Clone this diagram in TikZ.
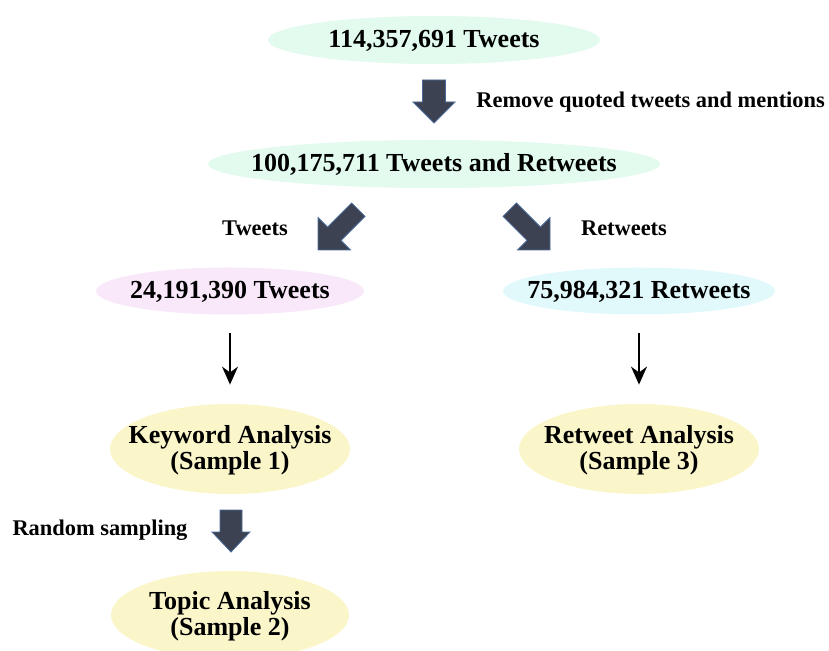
\documentclass[tikz,border=0pt]{standalone}
\usepackage{fontspec}
\setmainfont{Liberation Serif}
\usetikzlibrary{shapes.geometric,arrows.meta}
\definecolor{mintfill}{HTML}{E2FBEE}
\definecolor{pinkfill}{HTML}{F8E8FA}
\definecolor{cyanfill}{HTML}{E2F9FC}
\definecolor{yellowfill}{HTML}{FAF6C9}
\definecolor{arrowfill}{HTML}{3C4252}
\definecolor{arrowedge}{HTML}{4B6A9B}
% tip, angle, length, head length, head half width, shaft half width
\newcommand{\blockarrow}[6]{%
  \filldraw[blockstyle, shift={#1}, rotate=#2]
    (0,0) -- (-#4,#5) -- (-#4,#6) -- (-#3,#6) -- (-#3,-#6) -- (-#4,-#6) -- (-#4,-#5) -- cycle;}
% text that does not widen its oval
\newcommand{\ovaltext}[1]{\makebox[0pt]{\raisebox{-1.3pt}[\height][\depth]{\begin{tabular}{@{}c@{}}#1\end{tabular}}}}
\tikzset{
  oval/.style={ellipse, inner sep=0pt, font=\fontsize{13}{13}\selectfont\bfseries},
  note/.style={inner sep=0pt, font=\fontsize{11.2}{12}\selectfont\bfseries},
  blockstyle/.style={fill=arrowfill, draw=arrowedge, line width=0.4pt},
  thinarrow/.style={-{Stealth[length=9pt,width=8pt]}, line width=0.8pt}
}
\begin{document}
\begin{tikzpicture}[x=0.5pt, y=-0.5pt]
\useasboundingbox (0,0) rectangle (829,651);
% ovals
\node[oval, fill=mintfill, minimum width=166pt, minimum height=24pt] (all) at (434,40) {\ovaltext{114,357,691 Tweets}};
\node[oval, fill=mintfill, minimum width=226pt, minimum height=24pt] (mixed) at (434,164) {\ovaltext{100,175,711 Tweets and Retweets}};
\node[oval, fill=pinkfill, minimum width=134pt, minimum height=23.5pt] (tweets) at (230,291) {\ovaltext{24,191,390 Tweets}};
\node[oval, fill=cyanfill, minimum width=136pt, minimum height=23.5pt] (retweets) at (639,291) {\ovaltext{75,984,321 Retweets}};
\node[oval, fill=yellowfill, minimum width=120pt, minimum height=45pt] (keyword) at (230,449) {\ovaltext{Keyword Analysis\\(Sample 1)}};
\node[oval, fill=yellowfill, minimum width=120pt, minimum height=45pt] (rtanalysis) at (639,449) {\ovaltext{Retweet Analysis\\(Sample 3)}};
\node[oval, fill=yellowfill, minimum width=119pt, minimum height=44pt] (topic) at (230,615) {\ovaltext{Topic Analysis\\(Sample 2)}};
% labels
\node[note, anchor=west] (removelbl) at (476,102) {Remove quoted tweets and mentions};
\node[note] (tweetslbl) at (255,228) {Tweets};
\node[note] (retweetslbl) at (624,228) {Retweets};
\node[note] (samplinglbl) at (100,530) {Random sampling};
% block arrows
\blockarrow{(434,123)}{-90}{43}{21}{21}{11.5}
\blockarrow{(318,250)}{-135}{57}{23}{23}{9.5}
\blockarrow{(550,250)}{-45}{57}{23}{23}{9.5}
\blockarrow{(231,552)}{-90}{42}{20}{19}{11}
% thin arrows
\draw[thinarrow, shorten <=9.25pt, shorten >=9.5pt] (tweets) -- (keyword);
\draw[thinarrow, shorten <=9.25pt, shorten >=9.5pt] (retweets) -- (rtanalysis);

\end{tikzpicture}
\end{document}
